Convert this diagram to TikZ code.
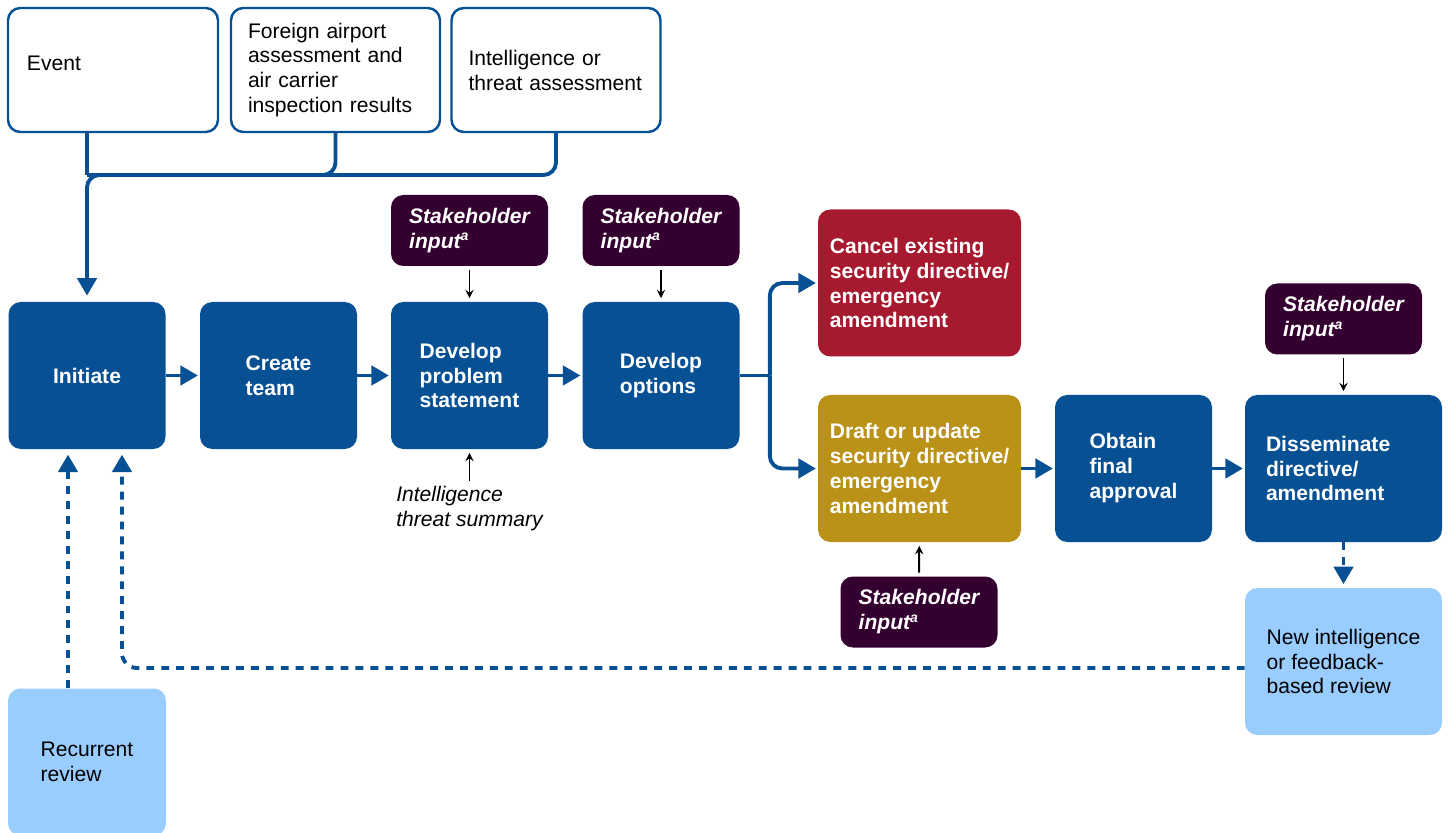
\documentclass[tikz,border=0pt]{standalone}
\usepackage{fontspec}
\setmainfont{Liberation Sans}
\usepackage{xcolor}
\usetikzlibrary{positioning,arrows.meta,calc}

\definecolor{tsablue}{RGB}{6,80,147}
\definecolor{cancelred}{RGB}{166,25,47}
\definecolor{draftgold}{RGB}{186,146,24}
\definecolor{stakepurple}{RGB}{52,0,48}
\definecolor{reviewblue}{RGB}{153,204,255}

\tikzset{
    box/.style={rounded corners=7pt, align=left, inner sep=0pt,
        font=\fontsize{12}{14.2}\selectfont},
    stepbox/.style={box, fill=tsablue, text=white,
        font=\bfseries\fontsize{12}{14.2}\selectfont,
        minimum width=3.14cm, minimum height=2.94cm},
    widebox/.style={stepbox, minimum width=4.06cm},
    sourcebox/.style={box, draw=tsablue, line width=1.4pt, text=black,
        inner xsep=0.34cm, text width=3.5cm, minimum height=2.48cm},
    stakebox/.style={box, fill=stakepurple, text=white,
        font=\bfseries\itshape\fontsize{12}{14.2}\selectfont,
        minimum width=3.14cm, minimum height=1.42cm},
    reviewbox/.style={box, fill=reviewblue, text=black,
        minimum width=3.16cm, minimum height=2.94cm},
    flowline/.style={draw=tsablue, line width=2.2pt},
    flowarrow/.style={flowline, -{Triangle[width=11pt,length=10pt]}},
    feedback/.style={flowarrow, dash pattern=on 4.5pt off 4pt},
    inputarrow/.style={draw=black, line width=1.1pt, -stealth,
        shorten <=2pt, shorten >=2pt}
}

\begin{document}
\begin{tikzpicture}[x=1cm, y=-1cm]
    \useasboundingbox (0,0) rectangle (29,16.66);

    % sources on top
    \node[sourcebox, inner xsep=0.38cm, text width=3.44cm, text depth=0.28cm]
        (event) at (2.26,1.40) {Event};
    \node[sourcebox] (foreign) at (6.71,1.40)
        {Foreign airport\\assessment and\\air carrier\\inspection results};
    \node[sourcebox] (intel) at (11.12,1.40) {Intelligence or\\threat assessment};

    % process steps
    \node[stepbox] (initiate) at (1.74,7.51) {Initiate};
    \node[stepbox] (team) at (5.57,7.51) {Create\\team};
    \node[stepbox] (problem) at (9.39,7.51) {Develop\\problem\\statement};
    \node[stepbox] (options) at (13.22,7.51) {Develop\\options};
    \node[widebox, fill=cancelred] (cancel) at (18.39,5.66)
        {Cancel existing\\security directive/\\emergency\\amendment};
    \node[widebox, fill=draftgold] (draft) at (18.39,9.37)
        {Draft or update\\security directive/\\emergency\\amendment};
    \node[stepbox] (obtain) at (22.67,9.37) {Obtain\\final\\approval};
    \node[stepbox, inner xsep=0.42cm, text width=3.1cm] (dissem) at (26.87,9.37)
        {Disseminate\\directive/\\amendment};

    % stakeholder input
    \foreach \nm/\px/\py in {
        stakeA/9.39/4.61,
        stakeB/13.22/4.61,
        stakeC/26.87/6.38,
        stakeD/18.38/12.24
    }{
        \node[stakebox] (\nm) at (\px,\py) {Stakeholder\\input\textsuperscript{a}};
    }

    \node[reviewbox, minimum width=3.94cm] (newintel) at (26.87,13.23)
        {New intelligence\\or feedback-\\based review};
    \node[reviewbox] (recurrent) at (1.74,15.24) {Recurrent\\review};
    \node[align=left, inner sep=1pt, font=\itshape\fontsize{12}{14.2}\selectfont]
        (summary) at (9.39,10.18) {Intelligence\\threat summary};

    % sources into initiate
    \coordinate (join) at (1.74,3.5);
    \draw[flowline] (event.south -| join) -- (join);
    \draw[flowline, rounded corners=0.25cm] (foreign.south) |- (join);
    \draw[flowarrow, rounded corners=0.25cm, shorten >=0.12cm]
        (intel.south) |- (join) -- (initiate.north);

    % main flow
    \foreach \from/\to in {initiate/team, team/problem, problem/options,
        draft/obtain, obtain/dissem}{
        \draw[flowarrow, shorten >=1pt] (\from) -- (\to);
    }
    \coordinate (split) at ([xshift=0.6cm]options.east);
    \draw[flowline] (options.east) -- (split);
    \draw[flowarrow, rounded corners=0.25cm, shorten >=1pt] (split) |- (cancel.west);
    \draw[flowarrow, rounded corners=0.25cm, shorten >=1pt] (split) |- (draft.west);

    % inputs
    \draw[inputarrow] (stakeA) -- (problem);
    \draw[inputarrow] (stakeB) -- (options);
    \draw[inputarrow] (stakeC) -- (dissem);
    \draw[inputarrow] (stakeD) -- (draft);
    \draw[inputarrow] (summary) -- (problem);

    % reviews
    \draw[feedback, shorten >=2pt] (dissem.south) -- (newintel.north);
    \draw[feedback, rounded corners=0.3cm, shorten >=3pt]
        ([yshift=-0.13cm]newintel.west) -| ([xshift=0.7cm]initiate.south);
    \draw[feedback, shorten >=3pt]
        ([xshift=-0.38cm]recurrent.north) -- ([xshift=-0.38cm]initiate.south);
\end{tikzpicture}
\end{document}
